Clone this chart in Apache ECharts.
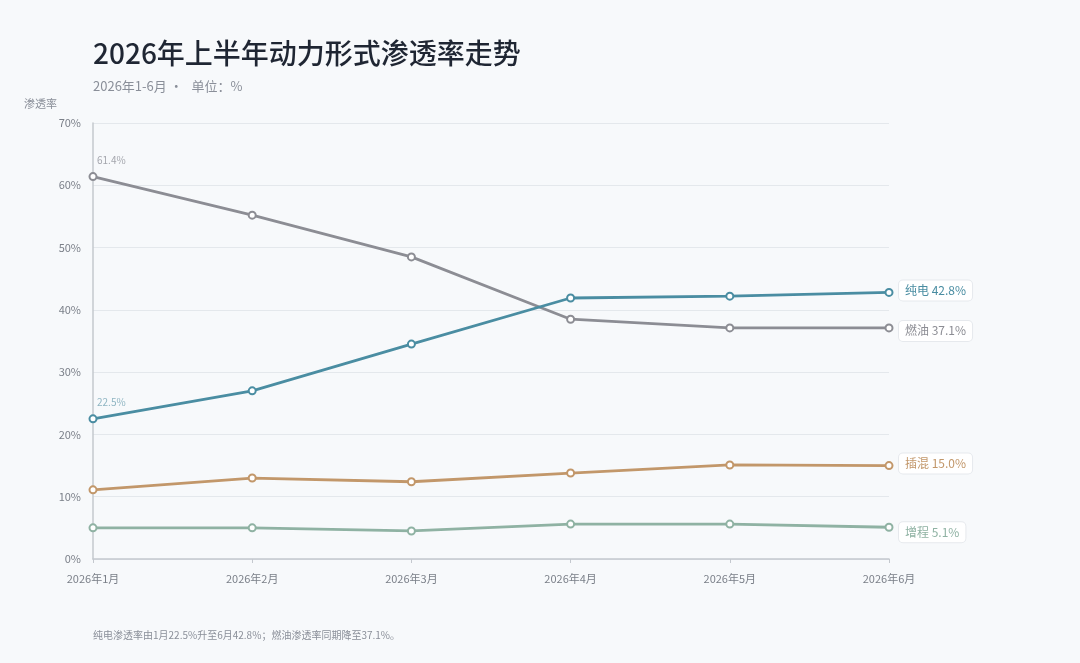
<!DOCTYPE html>
<html>
<head>
<meta charset="utf-8">
<script src="https://cdn.jsdelivr.net/npm/echarts@6/dist/echarts.min.js"></script>
<style>
  html, body { margin: 0; padding: 0; background: #f7f9fb; }
  #chart { width: 1080px; height: 663px; }
</style>
</head>
<body>
<div id="chart"></div>
<script>
const months = ["2026年1月", "2026年2月", "2026年3月", "2026年4月", "2026年5月", "2026年6月"];
const bev = [22.5, 27.0, 34.5, 41.9, 42.2, 42.8];   // 纯电
const ice = [61.4, 55.2, 48.5, 38.5, 37.1, 37.1];   // 燃油
const phev = [11.1, 13.0, 12.4, 13.8, 15.1, 15.0];  // 插混
const erev = [5.0, 5.0, 4.5, 5.6, 5.6, 5.1];        // 增程
const yTicks = [0, 10, 20, 30, 40, 50, 60, 70];

const FONT = "'Noto Sans CJK SC', 'Noto Sans', sans-serif";

function makeSeries(name, data, color, firstLabel, endShift) {
  return {
    name: name,
    type: "line",
    data: data.map((v, i) => {
      if (i === 0 && firstLabel) {
        return {
          value: v,
          label: {
            show: true,
            position: "top",
            align: "left",
            offset: [4, -2],
            formatter: "{c}%",
            color: firstLabel,
            fontSize: 10,
            fontFamily: FONT,
          },
        };
      }
      return v;
    }),
    symbol: "emptyCircle",
    symbolSize: 7,
    lineStyle: { color: color, width: 2.8 },
    itemStyle: { color: color, borderColor: color, borderWidth: 2 },
    endLabel: {
      show: true,
      formatter: (p) => p.seriesName + " " + p.value.toFixed(1) + "%",
      color: color,
      fontSize: 12,
      fontFamily: FONT,
      backgroundColor: "#ffffff",
      borderColor: "#e6e9ed",
      borderWidth: 1,
      borderRadius: 4,
      padding: [4, 6],
      distance: 10,
      offset: [0, endShift],
    },
  };
}

const el = echarts.init(document.getElementById("chart"));

const options = {
  backgroundColor: "#f7f9fb",
  animation: false,
  title: [
    {
      text: "2026年上半年动力形式渗透率走势",
      left: 88,
      top: 34,
      textStyle: { fontSize: 28, fontWeight: 500, color: "#1f2633", fontFamily: FONT },
    },
    {
      text: "2026年1-6月 ·   单位：%",
      left: 88,
      top: 75,
      textStyle: { fontSize: 13, fontWeight: "normal", color: "#8a8f99", fontFamily: FONT },
    },
    {
      text: "纯电渗透率由1月22.5%升至6月42.8%；燃油渗透率同期降至37.1%。",
      left: 88,
      top: 625,
      textStyle: { fontSize: 10, fontWeight: "normal", color: "#8a8f99", fontFamily: FONT },
    },
  ],
  grid: { left: 93, right: 191, top: 123, bottom: 104, containLabel: false },
  xAxis: {
    type: "category",
    data: months,
    boundaryGap: false,
    axisLine: { show: true, lineStyle: { color: "#c4c8ce", width: 1.5 } },
    axisTick: { show: true, length: 4, lineStyle: { color: "#c4c8ce" } },
    axisLabel: { color: "#7a7f88", fontSize: 11, margin: 14, fontFamily: FONT },
    splitLine: { show: false },
  },
  yAxis: {
    type: "value",
    min: yTicks[0],
    max: yTicks[yTicks.length - 1],
    interval: 10,
    name: "渗透率",
    nameLocation: "end",
    nameGap: 14,
    nameTextStyle: { color: "#8a8f99", fontSize: 11, align: "right", padding: [0, 36, 0, 0], fontFamily: FONT },
    axisLine: { show: true, lineStyle: { color: "#c4c8ce", width: 1.5 } },
    axisTick: { show: false },
    axisLabel: { formatter: "{value}%", color: "#7a7f88", fontSize: 11, margin: 12, fontFamily: FONT },
    splitLine: { show: true, lineStyle: { color: "#e4e8ec", width: 1 } },
  },
  series: [
    makeSeries("燃油", ice, "#8c8d94", "#a4a6ad", 3),
    makeSeries("纯电", bev, "#4a8da2", "#8fb5c2", -2),
    makeSeries("插混", phev, "#c2976a", null, -2),
    makeSeries("增程", erev, "#8fb2a3", null, 5),
  ],
};

el.setOption(options);

window.addEventListener("resize", () => {
  el.resize();
});
</script>
</body>
</html>
